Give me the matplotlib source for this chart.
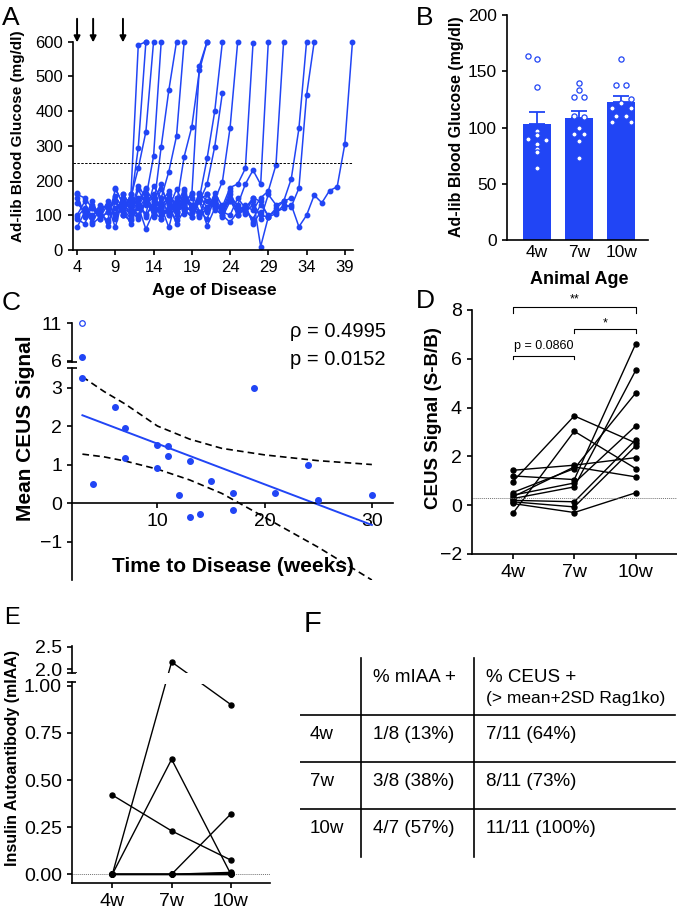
import matplotlib
matplotlib.use("Agg")
import matplotlib.pyplot as plt
import numpy as np
from matplotlib.lines import Line2D
from matplotlib.patches import Rectangle

plt.rcParams["font.family"] = ["Liberation Sans", "DejaVu Sans"]
plt.rcParams["axes.linewidth"] = 1.2
plt.rcParams["xtick.major.width"] = 1.2
plt.rcParams["ytick.major.width"] = 1.2
plt.rcParams["xtick.major.size"] = 3.5
plt.rcParams["ytick.major.size"] = 3.5

W, H = 677, 910
BLUE = "#2145f5"

# ---------------- A: glucose traces (one list per mouse, weekly from start week)
arrow_weeks = [4, 6.1, 10]
diabetes_cut = 250
trace_start = [4, 4, 4, 4, 4, 6, 9, 9, 9, 10, 9, 10, 11, 12, 14, 15, 16, 4, 4, 4, 26]
trace_glucose = [
    [95, 120, 100, 115, 130, 105, 150, 140, 590, 600],
    [160, 150, 120, 105, 85, 175, 135, 130, 295, 600],
    [135, 110, 95, 130, 120, 140, 100, 150, 235, 341, 600],
    [90, 75, 130, 100, 140, 95, 160, 110, 185, 150, 270, 600],
    [150, 100, 125, 110, 80, 120, 145, 95, 175, 130, 120, 298, 461, 600],
    [120, 90, 110, 140, 100, 160, 125, 105, 185, 150, 226, 328, 600],
    [180, 130, 110, 150, 95, 140, 120, 160, 130, 269, 355, 518, 600],
    [100, 120, 90, 130, 160, 110, 150, 100, 120, 140, 160, 531, 600],
    [140, 110, 160, 125, 100, 135, 190, 115, 130, 175, 110, 150, 264, 400, 600],
    [120, 105, 140, 180, 95, 130, 150, 110, 170, 125, 140, 190, 298, 453],
    [90, 140, 120, 100, 135, 150, 90, 120, 175, 130, 110, 160, 120, 145, 197, 352, 600],
    [160, 130, 100, 150, 120, 175, 135, 100, 155, 120, 140, 110, 165, 125, 180, 190, 235, 595],
    [130, 95, 140, 160, 120, 105, 150, 130, 110, 165, 140, 120, 100, 150, 130, 190, 230, 189, 600],
    [120, 150, 100, 135, 170, 110, 140, 125, 100, 160, 130, 115, 145, 100, 125, 115, 150, 170, 245, 600],
    [150, 120, 100, 140, 130, 165, 110, 125, 150, 95, 140, 120, 110, 130, 100, 95, 120, 140, 205, 350, 600],
    [110, 150, 130, 120, 95, 145, 160, 115, 130, 140, 120, 105, 150, 140, 95, 105, 130, 125, 178, 446, 600],
    [140, 110, 125, 150, 100, 120, 135, 110, 160, 125, 115, 90, 130, 100, 110, 120, 130, 67, 100, 158,
     136, 171, 182, 305, 600],
    [65, 110, 80, 120, 70, 140, 100, 85, 125, 60, 110, 90, 130, 75, 115, 95, 140, 70, 120, 100, 80, 110,
     130, 75, 110],
    [100, 140, 75, 95, 130, 65, 150, 115, 90, 140, 100, 125, 65, 150, 105, 130, 95, 120, 140, 110, 100,
     150, 120, 150, 10, 95],
    [163, 95, 140, 90, 110, 155, 120, 75, 130, 175, 140, 100, 120, 85, 160, 130, 110, 90, 150, 115, 170,
     100, 120, 80],
    [125, 140, 90, 160, 130, 140, 150],
]

# ---------------- B: ad-lib glucose by age
ages = ["4w", "7w", "10w"]
glucose_4w = [164, 161, 136, 97, 93, 90, 89, 85, 81, 78, 64]
glucose_7w = [140, 133, 127, 127, 110, 109, 100, 94, 94, 88, 73]
glucose_10w = [161, 138, 138, 125, 122, 117, 117, 110, 110, 105, 105]
jitter_4w = [-0.21, 0, 0, 0, 0, -0.21, 0.21, 0, 0, 0, 0]
jitter_7w = [0, 0, -0.12, 0.12, -0.12, 0.12, 0, -0.12, 0.12, 0, 0]
jitter_10w = [0, -0.12, 0.12, 0.23, 0, -0.23, 0.23, -0.12, 0.12, -0.23, 0.23]

# ---------------- C: CEUS vs time to disease
c_weeks = [3, 4, 6, 7, 7, 10, 10, 11, 11, 12, 13, 13, 14, 15, 17, 17, 19, 21, 24, 25, 30]
c_signal = [3.26, 0.5, 2.5, 1.96, 1.17, 1.51, 0.91, 1.48, 1.23, 0.22, 1.08, -0.37, -0.29, 0.56,
            0.27, -0.18, 3.0, 0.27, 1.0, 0.07, 0.22]
c_high_weeks = [3]
c_high_signal = [6.53]
c_excluded_weeks = [3]
c_excluded_signal = [11.0]
fit_weeks = [3, 30]
fit_signal = [2.28, -0.57]
band_weeks = [3, 5, 7, 10, 13, 16, 20, 25, 30]
band_upper = [3.28, 2.9, 2.57, 2.0, 1.66, 1.42, 1.25, 1.1, 1.0]
band_lower = [1.27, 1.2, 1.09, 0.88, 0.6, 0.25, -0.37, -1.15, -2.0]
rho_text = "\u03c1 = 0.4995"
p_text = "p = 0.0152"

# ---------------- D: CEUS signal per mouse
d_4w = [0.96, -0.34, 1.43, 1.20, 0.52, 0.41, 0.27, 0.20, 0.14, 0.07, 0.34]
d_7w = [3.66, 3.03, 1.64, 1.05, 1.50, 0.91, 0.75, 0.14, -0.07, -0.30, 1.57]
d_10w = [2.55, 1.50, 1.95, 6.62, 4.60, 3.25, 5.53, 2.69, 2.43, 0.51, 1.16]
d_cutoff = 0.28

# ---------------- E: insulin autoantibody per mouse
e_4w = [0, 0, 0.42, 0, 0, 0, 0, 0]
e_7w = [2.16, 0.61, 0.23, 0, 0, 0, 0, 0]
e_10w = [0.90, 0, 0.075, 0.32, 0.01, 0.005, 0, 0]
e_break = 1.02

# ---------------- F: table
f_header = ["% mIAA +", "% CEUS +"]
f_subheader = "(> mean+2SD Rag1ko)"
f_rows = ["4w", "7w", "10w"]
f_miaa = ["1/8 (13%)", "3/8 (38%)", "4/7 (57%)"]
f_ceus = ["7/11 (64%)", "8/11 (73%)", "11/11 (100%)"]


fig = plt.figure(figsize=(W / 100, H / 100), dpi=100)


def add_axes_px(x0, y0, x1, y1):
    return fig.add_axes([x0 / W, 1 - y1 / H, (x1 - x0) / W, (y1 - y0) / H])


def style(ax, keep=("left", "bottom")):
    for s in ("top", "right", "left", "bottom"):
        ax.spines[s].set_visible(s in keep)
    ax.patch.set_alpha(0)


def ftext(x, y, s, **kw):
    fig.text(x / W, 1 - y / H, s, **kw)


def cap(ax, y):
    ax.plot([0], [y], marker="_", ms=7, mew=1.2, color="k", transform=ax.transAxes, clip_on=False)


# ---- A
axA = add_axes_px(72.7, 41.7, 353, 250)
style(axA)
for start, vals in zip(trace_start, trace_glucose):
    wk = np.arange(start, start + len(vals))
    axA.plot(wk, vals, "-o", color=BLUE, lw=1.1, ms=3.2, clip_on=False)
axA.axhline(diabetes_cut, color="k", ls=(0, (2.5, 1.5)), lw=0.7)
axA.set_xlim(3.43, 40.07)
axA.set_ylim(0, 600)
axA.set_xticks(range(4, 40, 5))
axA.set_yticks(range(0, 601, 100))
axA.tick_params(labelsize=12)
for w in arrow_weeks:
    axA.annotate("", xy=(w, 598), xytext=(w, 666),
                 arrowprops=dict(arrowstyle="-|>", color="k", lw=1.4, mutation_scale=9,
                                 shrinkA=0, shrinkB=0), annotation_clip=False)
ftext(18.5, 136, "Ad-lib Blood Glucose (mg/dl)", rotation=90, ha="center", va="center",
      fontsize=11, fontweight="bold")
ftext(214.5, 291, "Age of Disease", ha="center", va="center", fontsize=12.5, fontweight="bold")

# ---- B
axB = add_axes_px(506.7, 15, 648.3, 240)
style(axB)
groups = [glucose_4w, glucose_7w, glucose_10w]
jitters = [jitter_4w, jitter_7w, jitter_10w]
xb = np.arange(len(ages))
means = [np.mean(g) for g in groups]
sems = [np.std(g, ddof=1) / np.sqrt(len(g)) for g in groups]
axB.bar(xb, means, width=0.66, color=BLUE, zorder=1)
axB.errorbar(xb, means, yerr=[np.zeros(3), sems], fmt="none", ecolor=BLUE, elinewidth=1.3,
             capsize=6, capthick=1.3, zorder=2)
for i, (g, j) in enumerate(zip(groups, jitters)):
    axB.scatter(i + np.array(j), g, s=14, facecolor="white", edgecolor=BLUE, linewidth=0.9,
                zorder=3, clip_on=False)
axB.set_xlim(-0.71, 2.64)
axB.set_ylim(0, 200)
axB.set_yticks(range(0, 201, 50))
axB.set_xticks(xb)
axB.set_xticklabels(ages)
axB.tick_params(labelsize=12.5)
axB.tick_params(axis="x", length=0)
ftext(456.7, 126.7, "Ad-lib Blood Glucose (mg/dl)", rotation=90, ha="center", va="center",
      fontsize=11.5, fontweight="bold")
ftext(579, 279, "Animal Age", ha="center", va="center", fontsize=13, fontweight="bold")

# ---- C
axC = add_axes_px(71.7, 368.3, 393.3, 580)
axCt = add_axes_px(71.7, 323.3, 393.3, 362.3)
style(axC)
style(axCt, keep=("left",))
axC.spines["bottom"].set_position(("data", 0))
axC.plot(band_weeks, band_upper, color="k", ls=(0, (4, 2.5)), lw=1.2)
axC.plot(band_weeks, band_lower, color="k", ls=(0, (4, 2.5)), lw=1.2)
axC.plot(fit_weeks, fit_signal, color=BLUE, lw=1.4)
axC.scatter(c_weeks, c_signal, s=16, color=BLUE, zorder=3, clip_on=False)
axCt.scatter(c_high_weeks, c_high_signal, s=16, color=BLUE, clip_on=False)
axCt.scatter(c_excluded_weeks, c_excluded_signal, s=16, facecolor="white", edgecolor=BLUE,
             linewidth=0.9, clip_on=False)
for a in (axC, axCt):
    a.set_xlim(2.0, 32.0)
axC.set_ylim(-2.0, 3.5)
axCt.set_ylim(5.79, 11.0)
axC.set_xticks([10, 20, 30])
axC.set_yticks([-1, 0, 1, 2, 3])
axCt.set_yticks([6, 11])
axCt.set_xticks([])
for a in (axC, axCt):
    a.tick_params(labelsize=14)
cap(axC, 1)
cap(axCt, 0)
ftext(290, 331.7, rho_text, ha="left", va="center", fontsize=14.5)
ftext(290, 360, p_text, ha="left", va="center", fontsize=14.5)
ftext(25.8, 428, "Mean CEUS Signal", rotation=90, ha="center", va="center", fontsize=15,
      fontweight="bold")
ftext(232.5, 566, "Time to Disease (weeks)", ha="center", va="center", fontsize=15,
      fontweight="bold")

# ---- D
axD = add_axes_px(471.7, 310, 677, 554)
style(axD)
xd = np.arange(3)
for a, b, c in zip(d_4w, d_7w, d_10w):
    axD.plot(xd, [a, b, c], "-o", color="k", lw=1.0, ms=3.6, clip_on=False)
axD.axhline(d_cutoff, color="0.45", ls=(0, (1, 1)), lw=0.7)
axD.set_xlim(-0.667, 2.67)
axD.set_ylim(-2, 8)
axD.set_yticks(range(-2, 9, 2))
axD.set_xticks(xd)
axD.set_xticklabels(ages)
axD.tick_params(labelsize=14)


def bracket(ax, x0, x1, y, drop, label, ty, fs):
    ax.plot([x0, x0, x1, x1], [y - drop, y, y, y - drop], color="k", lw=0.8, clip_on=False)
    ax.text((x0 + x1) / 2, ty, label, ha="center", va="center", fontsize=fs)


bracket(axD, 0, 2, 8.14, 0.28, "**", 8.42, 9)
bracket(axD, 1, 2, 7.23, 0.17, "*", 7.43, 9)
bracket(axD, 0, 1, 6.13, 0.15, "p = 0.0860", 6.52, 9)
ftext(433.3, 418.3, "CEUS Signal (S-B/B)", rotation=90, ha="center", va="center", fontsize=13.5,
      fontweight="bold")

# ---- E (broken axis; lines drawn straight across the break, as in the original)
axE = add_axes_px(71.7, 682, 270, 883.3)
axEt = add_axes_px(71.7, 645.5, 270, 672.7)
style(axE)
style(axEt, keep=("left",))
xe = np.arange(3)
for a in (axE, axEt):
    a.set_xlim(-0.686, 2.66)
axE.axhline(0, color="0.45", ls=(0, (1, 1)), lw=0.7)
axE.set_ylim(-0.048, e_break)
axEt.set_ylim(1.92, 2.527)
axE.set_yticks([0, 0.25, 0.5, 0.75, 1.0])
axE.set_yticklabels(["0.00", "0.25", "0.50", "0.75", "1.00"])
axEt.set_yticks([2.0, 2.5])
axEt.set_yticklabels(["2.0", "2.5"])
axEt.set_xticks([])
axE.set_xticks(xe)
axE.set_xticklabels(ages)
for a in (axE, axEt):
    a.tick_params(labelsize=14)
cap(axE, 1)
cap(axEt, 0)

to_fig = fig.transFigure.inverted()
for vals in zip(e_4w, e_7w, e_10w):
    pts = np.array([to_fig.transform((axEt if v > e_break else axE).transData.transform((x, v)))
                    for x, v in zip(xe, vals)])
    fig.add_artist(Line2D(pts[:, 0], pts[:, 1], color="k", lw=1.0, marker="o", ms=3.6, zorder=2))
fig.add_artist(Rectangle((76 / W, 1 - 684 / H), (272 - 76) / W, 11 / H, transform=fig.transFigure,
                         facecolor="white", edgecolor="none", zorder=3))
ftext(12.8, 758.3, "Insulin Autoantibody (mIAA)", rotation=90, ha="center", va="center",
      fontsize=11.5, fontweight="bold")

# ---- F (table)
axF = add_axes_px(300, 580, 677, 910)
axF.axis("off")
axF.set_xlim(300, 677)
axF.set_ylim(910, 580)
for y in (715, 761.7, 809.3):
    axF.plot([300, 675], [y, y], color="k", lw=1.2)
for x in (361, 474):
    axF.plot([x, x], [658, 856.7], color="k", lw=1.2)
axF.text(372.7, 677.7, f_header[0], ha="left", va="center", fontsize=13.5)
axF.text(486, 677.7, f_header[1], ha="left", va="center", fontsize=13.5)
axF.text(486, 699, f_subheader, ha="left", va="center", fontsize=12.5)
for ry, r, m, c in zip((735, 781.5, 828.3), f_rows, f_miaa, f_ceus):
    axF.text(310, ry, r, ha="left", va="center", fontsize=13.5)
    axF.text(372.7, ry, m, ha="left", va="center", fontsize=13.5)
    axF.text(486, ry, c, ha="left", va="center", fontsize=13.5)

# ---- panel letters
for x, y, s, fs in [(1.5, 25, "A", 19), (416, 25, "B", 19), (1.5, 310, "C", 19),
                    (416, 308, "D", 19), (4, 623.5, "E", 17), (304, 631.5, "F", 21)]:
    ftext(x, y, s, ha="left", va="baseline", fontsize=fs)

fig.savefig("out.png", dpi=100)
